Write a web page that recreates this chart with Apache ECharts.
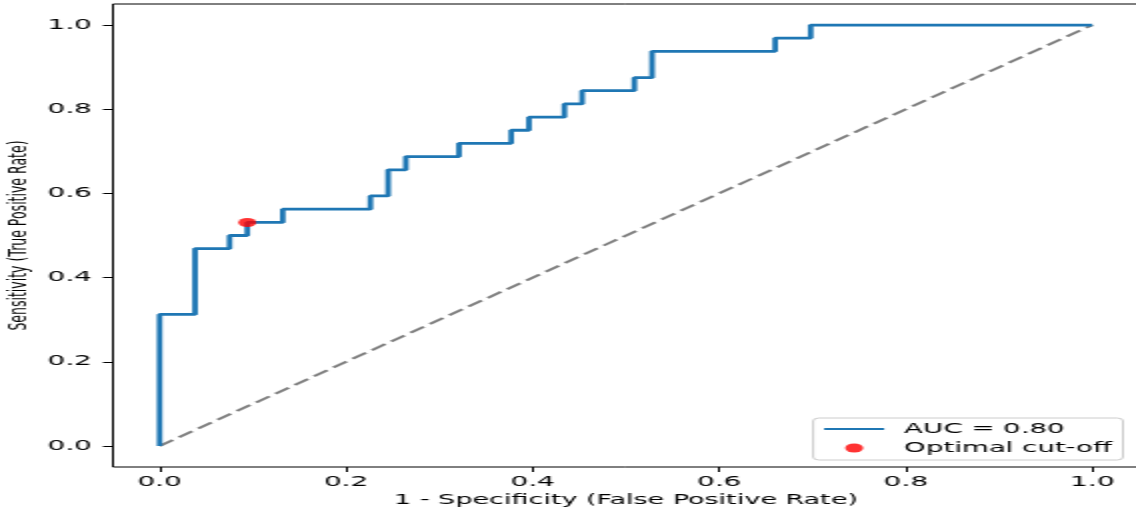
<!DOCTYPE html>
<html><head><meta charset="utf-8">
<script src="https://cdn.jsdelivr.net/npm/echarts@6/dist/echarts.min.js"></script>
<style>
html,body{margin:0;padding:0;background:#fff;overflow:hidden;}
#wrap{width:1136px;height:508px;overflow:hidden;position:relative;background:#fff;}
#chart{width:568px;height:508px;transform:scaleX(2);transform-origin:0 0;}
</style></head><body>
<div id="wrap"><div id="chart"></div></div>
<script>
// ROC curve corner points (1 - specificity, sensitivity)
const fpr = [0, 0, 0.038, 0.038, 0.075, 0.075, 0.094, 0.094, 0.132, 0.132, 0.226, 0.226, 0.245, 0.245, 0.264, 0.264, 0.321, 0.321, 0.377, 0.377, 0.396, 0.396, 0.434, 0.434, 0.453, 0.453, 0.509, 0.509, 0.528, 0.528, 0.660, 0.660, 0.698, 0.698, 1.0];
const tpr = [0, 0.3125, 0.3125, 0.469, 0.469, 0.5, 0.5, 0.531, 0.531, 0.5625, 0.5625, 0.594, 0.594, 0.656, 0.656, 0.6875, 0.6875, 0.719, 0.719, 0.75, 0.75, 0.781, 0.781, 0.8125, 0.8125, 0.844, 0.844, 0.875, 0.875, 0.9375, 0.9375, 0.969, 0.969, 1.0, 1.0];
const cutoffPoint = [0.094, 0.531];
const chanceX = [0, 1];
const chanceY = [0, 1];
const xTicks = [0, 0.2, 0.4, 0.6, 0.8, 1.0];
const yTicks = [0, 0.2, 0.4, 0.6, 0.8, 1.0];
const aucLabel = 'AUC = 0.80';
const cutoffLabel = 'Optimal cut-off';
const xTitle = '1 - Specificity (False Positive Rate)';
const yTitle = 'Sensitivity (True Positive Rate)';

const rocData = fpr.map((x, i) => [x, tpr[i]]);
const chanceData = chanceX.map((x, i) => [x, chanceY[i]]);
const FONT = 'DejaVu Sans';

const chart = echarts.init(document.getElementById('chart'), null, {renderer: 'canvas'});
chart.setOption({
  animation: false,
  backgroundColor: '#ffffff',
  grid: {left: 56.5, top: 4, width: 513, height: 463, containLabel: false, outerBoundsMode: 'none',
         show: true, borderColor: '#000000', borderWidth: 1, backgroundColor: 'transparent'},
  legend: {
    orient: 'vertical', right: 6.5, bottom: 48, align: 'left',
    padding: [3, 5.5, 4, 4.5], itemGap: 3, itemWidth: 30, itemHeight: 9,
    backgroundColor: 'rgba(255,255,255,0.8)', borderColor: '#cccccc', borderWidth: 1, borderRadius: 3,
    textStyle: {fontFamily: FONT, fontSize: 13.8, color: '#000', lineHeight: 16, padding: [0, 0, 0, 5]},
    data: [
      {name: aucLabel, itemStyle: {opacity: 0}, lineStyle: {width: 2, color: '#1f77b4'}},
      {name: cutoffLabel, icon: 'circle'}
    ]
  },
  xAxis: {
    type: 'value', min: -0.05, max: 1.05,
    name: xTitle, nameLocation: 'middle', nameGap: 23,
    nameTextStyle: {fontFamily: FONT, fontSize: 13.5, color: '#000'},
    axisLine: {show: false, onZero: false},
    axisTick: {show: true, length: 5, inside: false, customValues: xTicks, lineStyle: {color: '#000', width: 1}},
    axisLabel: {customValues: xTicks, formatter: v => v.toFixed(1), margin: 8, fontFamily: FONT, fontSize: 14, color: '#000'},
    splitLine: {show: false}
  },
  yAxis: {
    type: 'value', min: -0.05, max: 1.05,
    name: yTitle, nameLocation: 'middle', nameGap: 40, nameMoveOverlap: false,
    nameTextStyle: {fontFamily: FONT, fontSize: 12.5, color: '#000'},
    axisLine: {show: false, onZero: false},
    axisTick: {show: true, length: 5, inside: false, customValues: yTicks, lineStyle: {color: '#000', width: 1}},
    axisLabel: {customValues: yTicks, formatter: v => v.toFixed(1), margin: 10.5, fontFamily: FONT, fontSize: 14, color: '#000'},
    splitLine: {show: false}
  },
  series: [
    {
      name: aucLabel, type: 'line', data: rocData, symbol: 'none', showSymbol: false,
      lineStyle: {color: '#1f77b4', width: 2.8}, itemStyle: {color: '#1f77b4'}, z: 3
    },
    {
      name: 'chance', type: 'line', data: chanceData, symbol: 'none', showSymbol: false,
      lineStyle: {color: '#808080', width: 2, type: [9, 4]}, z: 2
    },
    {
      name: cutoffLabel, type: 'scatter', data: [cutoffPoint], symbol: 'circle', symbolSize: 9,
      itemStyle: {color: '#ff0000'}, z: 4
    }
  ]
});
</script>
</body></html>
